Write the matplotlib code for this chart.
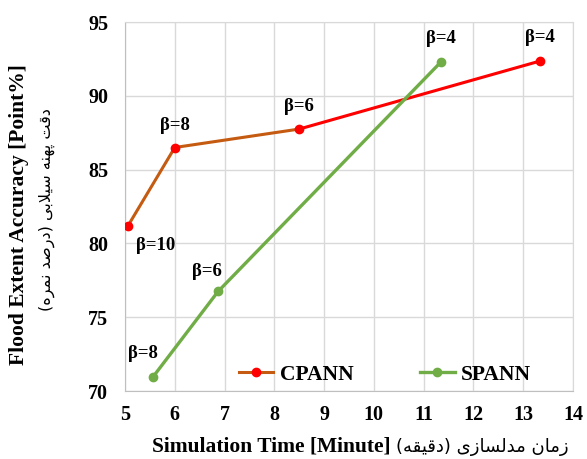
import matplotlib
matplotlib.use("Agg")
import matplotlib.pyplot as plt

# data
cpann_time = [5.06, 6.0, 8.5, 13.33]
cpann_acc = [81.2, 86.5, 87.75, 92.35]
cpann_beta = ["β=10", "β=8", "β=6", "β=4"]

spann_time = [5.56, 6.87, 11.35]
spann_acc = [70.95, 76.75, 92.3]
spann_beta = ["β=8", "β=6", "β=4"]

x_ticks = list(range(5, 15))
y_ticks = [70, 75, 80, 85, 90, 95]

# label offsets (points) from each marker
cpann_off = [(20, -14), (0, 16), (0, 16), (0, 17)]
spann_off = [(-7, 17), (-8, 14), (0, 17)]

ORANGE = "#C55A11"
RED = "#FF0000"
GREEN = "#70AD47"
GRID = "#D9D9D9"

# --- tiny persian shaper (presentation forms) so DejaVu draws joined letters
FORMS = {
    "ا": ("\uFE8D", "\uFE8E", None, None),
    "ب": ("\uFE8F", "\uFE90", "\uFE91", "\uFE92"),
    "پ": ("\uFB56", "\uFB57", "\uFB58", "\uFB59"),
    "ت": ("\uFE95", "\uFE96", "\uFE97", "\uFE98"),
    "د": ("\uFEA9", "\uFEAA", None, None),
    "ر": ("\uFEAD", "\uFEAE", None, None),
    "ز": ("\uFEAF", "\uFEB0", None, None),
    "س": ("\uFEB1", "\uFEB2", "\uFEB3", "\uFEB4"),
    "ص": ("\uFEB9", "\uFEBA", "\uFEBB", "\uFEBC"),
    "ق": ("\uFED5", "\uFED6", "\uFED7", "\uFED8"),
    "ل": ("\uFEDD", "\uFEDE", "\uFEDF", "\uFEE0"),
    "م": ("\uFEE1", "\uFEE2", "\uFEE3", "\uFEE4"),
    "ن": ("\uFEE5", "\uFEE6", "\uFEE7", "\uFEE8"),
    "ه": ("\uFEE9", "\uFEEA", "\uFEEB", "\uFEEC"),
    "ی": ("\uFBFC", "\uFBFD", "\uFBFE", "\uFBFF"),
    "ﻻ": ("\uFEFB", "\uFEFC", None, None),
}
MIRROR = {"(": ")", ")": "("}


def shape_fa(text):
    text = text.replace("لا", "ﻻ")
    out = []
    for i, ch in enumerate(text):
        if ch not in FORMS:
            out.append(ch)
            continue
        prev = text[i - 1] if i > 0 else ""
        nxt = text[i + 1] if i + 1 < len(text) else ""
        joins_prev = prev in FORMS and FORMS[prev][2] is not None
        joins_next = nxt in FORMS and FORMS[ch][2] is not None
        iso, fin, ini, med = FORMS[ch]
        if joins_prev and joins_next:
            out.append(med)
        elif joins_prev:
            out.append(fin)
        elif joins_next:
            out.append(ini)
        else:
            out.append(iso)
    # visual order for right-to-left run
    return "".join(MIRROR.get(c, c) for c in reversed(out))


y_en = "Flood Extent Accuracy [Point%]"
y_fa = "دقت پهنه سیلابی (درصد نمره)"
x_en = "Simulation Time [Minute]"
x_fa = "زمان مدلسازی (دقیقه)"

plt.rcParams["font.family"] = ["Liberation Serif", "DejaVu Sans"]

fig = plt.figure(figsize=(5.87, 4.59), dpi=100)
ax = fig.add_axes([0.213, 0.148, 0.763, 0.804])

ax.plot(cpann_time[:3], cpann_acc[:3], color=ORANGE, lw=2.2, zorder=3)
ax.plot(cpann_time[2:], cpann_acc[2:], color=RED, lw=2.2, zorder=3)
ax.plot(cpann_time, cpann_acc, ls="none", marker="o", ms=6, color=RED, zorder=4)
ax.plot(spann_time, spann_acc, color=GREEN, lw=2.4, marker="o", ms=6, zorder=3)

for xv, yv, lab, off in zip(cpann_time, cpann_acc, cpann_beta, cpann_off):
    ax.annotate(lab, (xv, yv), xytext=off, textcoords="offset points",
                ha="center", va="center", fontsize=13.5, fontweight="bold")
for xv, yv, lab, off in zip(spann_time, spann_acc, spann_beta, spann_off):
    ax.annotate(lab, (xv, yv), xytext=off, textcoords="offset points",
                ha="center", va="center", fontsize=13.5, fontweight="bold")

# legend proxies
h1, = ax.plot([], [], color=ORANGE, lw=2.2, marker="o", ms=6,
              markerfacecolor=RED, markeredgecolor=RED)
h2, = ax.plot([], [], color=GREEN, lw=2.4, marker="o", ms=6)
fig.legend([h1, h2], ["CPANN", "SPANN"], loc="center",
           bbox_to_anchor=(385 / 587, 1 - 375 / 459), ncol=2, frameon=False,
           handlelength=1.6, handletextpad=0.3, columnspacing=3.1,
           prop={"family": "Liberation Serif", "weight": "bold", "size": 15.5})

ax.set_xlim(5, 14)
ax.set_ylim(70, 95)
ax.set_xticks(x_ticks)
ax.set_yticks(y_ticks)
ax.grid(True, color=GRID, lw=1)
ax.set_axisbelow(True)
for s in ax.spines.values():
    s.set_color(GRID)
ax.spines["left"].set_color("#BFBFBF")
ax.spines["bottom"].set_color("#BFBFBF")
ax.tick_params(axis="y", length=0, labelsize=14.5, pad=12)
ax.tick_params(axis="x", length=0, labelsize=14.5, pad=10)
for t in ax.get_xticklabels() + ax.get_yticklabels():
    t.set_fontweight("bold")

# axis titles: english bold + persian regular
fig.text(391 / 587, 1 - 446 / 459, x_en, ha="right", va="center",
         fontsize=15.5, fontweight="bold")
fig.text(396 / 587, 1 - 447 / 459, shape_fa(x_fa), ha="left", va="center",
         fontsize=13, family="DejaVu Sans")
fig.text(19 / 587, 1 - 215 / 459, y_en, rotation=90, ha="center", va="center",
         fontsize=15.5, fontweight="bold")
fig.text(47 / 587, 1 - 210 / 459, shape_fa(y_fa), rotation=90, ha="center",
         va="center", fontsize=11.5, family="DejaVu Sans")

fig.savefig("out.png", dpi=100)
